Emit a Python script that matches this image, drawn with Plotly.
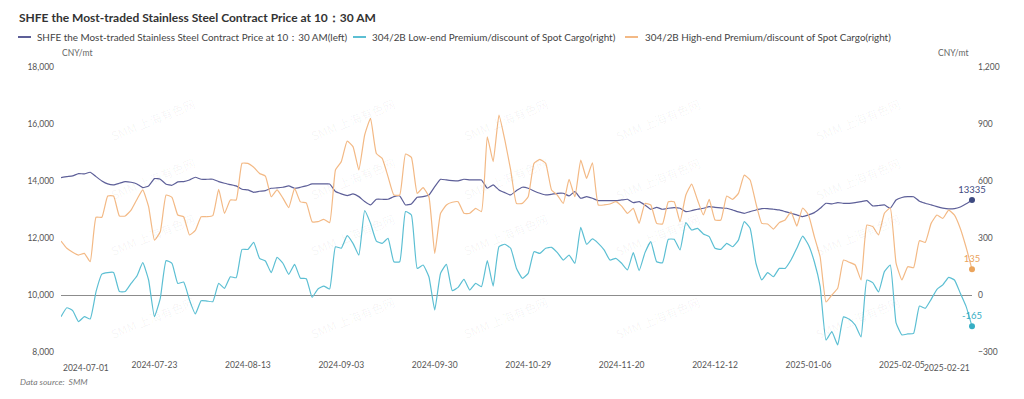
import plotly.graph_objects as go

# ---------------- data ----------------
tick_labels = ["2024-07-01", "2024-07-23", "2024-08-13", "2024-09-03", "2024-09-30",
               "2024-10-29", "2024-11-20", "2024-12-12", "2025-01-06", "2025-02-05",
               "2025-02-21"]
tick_index = [0, 16, 32, 48, 64, 80, 96, 112, 128, 144, 156]

price = [14119, 14154, 14178, 14260, 14248, 14306, 14154, 14002, 13897, 13862,
         13920, 13979, 13955, 13897, 13768, 13827, 14084, 14061, 13885, 13850,
         13967, 13979, 14037, 14131, 14061, 14061, 14061, 13979, 13920, 13873,
         13827, 13710, 13686, 13604, 13640, 13663, 13745, 13757, 13780, 13827,
         13745, 13780, 13827, 13897, 13897, 13897, 13897, 13628, 13546, 13487,
         13546, 13452, 13277, 13160, 13359, 13359, 13359, 13452, 13476, 13160,
         13195, 13429, 13452, 13511, 13803, 14061, 14037, 14014, 14002, 14061,
         14037, 14037, 14037, 13745, 13862, 13686, 13593, 13511, 13663, 13780,
         13745, 13651, 13569, 13511, 13534, 13569, 13569, 13476, 13628, 13394,
         13452, 13394, 13312, 13312, 13312, 13312, 13335, 13359, 13242, 13277,
         13160, 13008, 13078, 13008, 13043, 13066, 13043, 12926, 12960, 13008,
         13043, 13101, 13078, 13055, 13043, 12984, 12914, 12867, 12926, 12984,
         13031, 13031, 13008, 12984, 12926, 12867, 12809, 12750, 12809, 12891,
         13043, 13218, 13195, 13242, 13218, 13218, 13242, 13277, 13312, 13125,
         13140, 13160, 13043, 13335, 13420, 13449, 13449, 13290, 13220, 13160,
         13101, 13050, 13020, 13030, 13090, 13200, 13335]

low_end = [-114, -67, -82, -140, -114, -126, 18, 110, 118, 119,
           18, 18, 61, 100, 170, 79, -114, -18, 181, 167,
           61, 68, -26, -100, -30, -32, -35, 61, 35, 96,
           91, 240, 240, 277, 193, 179, 117, 198, 167, 109,
           161, 88, 86, -12, 32, 47, 32, 254, 246, 312,
           272, 210, 444, 377, 284, 272, 298, 175, 175, 439,
           421, 140, 158, 96, -79, 114, 161, 23, 40, 82,
           26, 61, 44, 181, 47, 254, 267, 246, 140, 88,
           114, 228, 219, 246, 251, 223, 184, 210, 167, 356,
           267, 295, 272, 237, 184, 193, 167, 132, 223, 128,
           223, 281, 175, 170, 293, 293, 237, 381, 342, 351,
           321, 307, 246, 240, 272, 254, 289, 386, 351, 167,
           79, 118, 96, 140, 140, 184, 246, 310, 263, 175,
           44, -237, -193, -263, -115, -128, -158, -221, 79, 65,
           16, 123, 158, -147, -210, -205, -202, -58, -70, -23,
           30, 53, 93, 79, 9, -61, -165]

high_end = [284, 246, 225, 210, 219, 175, 409, 409, 521, 521,
            416, 416, 447, 503, 553, 465, 289, 333, 526, 514,
            421, 412, 316, 340, 412, 412, 418, 556, 430, 500,
            500, 693, 693, 672, 640, 626, 517, 553, 510, 460,
            561, 490, 485, 386, 386, 398, 381, 658, 702, 810,
            781, 658, 842, 930, 745, 719, 623, 526, 526, 742,
            724, 535, 565, 517, 219, 430, 474, 488, 491, 430,
            430, 456, 439, 833, 702, 947, 816, 658, 482, 482,
            517, 693, 714, 693, 553, 526, 482, 609, 517, 710,
            614, 696, 474, 474, 479, 491, 468, 430, 456, 377,
            482, 474, 377, 374, 491, 491, 386, 526, 584, 500,
            421, 503, 395, 395, 521, 503, 535, 631, 605, 482,
            377, 374, 347, 381, 395, 438, 363, 458, 421, 307,
            200, -37, 0, 35, 184, 172, 158, 79, 368, 360,
            316, 430, 458, 168, 79, 149, 144, 286, 277, 377,
            421, 403, 447, 420, 350, 250, 135]

series_names = [
    "SHFE the Most-traded Stainless Steel Contract Price at 10：30 AM(left)",
    "304/2B Low-end Premium/discount of Spot Cargo(right)",
    "304/2B High-end Premium/discount of Spot Cargo(right)",
]
title_text = "SHFE the Most-traded Stainless Steel Contract Price at 10：30 AM"

# ---------------- style ----------------
C_PRICE = "#5d5f98"
C_LOW = "#5cbfd3"
C_HIGH = "#f3b985"
LBL_PRICE = "#3e4a80"
LBL_LOW = "#36aec4"
LBL_HIGH = "#eba45c"
FONT = "Lato"

# page has an 8px body margin: the figure is drawn offset by it
OFF = 8
W, H = 1024 - OFF, 399 - OFF
# plot area in page pixels
PL, PR, PT, PB = 61, 972, 67, 352


def px(x):
    return (x - PL) / (PR - PL)


def py(y):
    return (PB - y) / (PB - PT)


xs = list(range(len(price)))

fig = go.Figure()
fig.add_trace(go.Scatter(x=xs, y=price, mode="lines", name=series_names[0],
                         line=dict(color=C_PRICE, width=1.2, shape="spline", smoothing=0.4),
                         yaxis="y", showlegend=False))
fig.add_trace(go.Scatter(x=xs, y=low_end, mode="lines", name=series_names[1],
                         line=dict(color=C_LOW, width=1.2, shape="spline", smoothing=0.4),
                         yaxis="y2", showlegend=False))
fig.add_trace(go.Scatter(x=xs, y=high_end, mode="lines", name=series_names[2],
                         line=dict(color=C_HIGH, width=1.2, shape="spline", smoothing=0.4),
                         yaxis="y2", showlegend=False))

# end-point markers with value labels
for ys, ax, lc in [(price, "y", LBL_PRICE), (low_end, "y2", LBL_LOW), (high_end, "y2", LBL_HIGH)]:
    fig.add_trace(go.Scatter(x=[xs[-1]], y=[ys[-1]], mode="markers+text",
                             text=[str(ys[-1])], textposition="top center",
                             textfont=dict(family=FONT, size=9.5, color=lc),
                             marker=dict(color=lc, size=6, symbol="circle"),
                             cliponaxis=False,
                             yaxis=ax, showlegend=False, hoverinfo="skip"))

annotations = []
shapes = []

# title
annotations.append(dict(text="<b>" + title_text + "</b>", x=px(17), y=py(18), xref="paper", yref="paper",
                        xanchor="left", yanchor="middle", showarrow=False,
                        font=dict(family=FONT, size=12, color="#333333")))

# manual legend
legend_pos = [(18, 35), (353, 370), (625, 643)]
for (lx, tx), name, col in zip(legend_pos, series_names, [C_PRICE, C_LOW, C_HIGH]):
    shapes.append(dict(type="line", xref="paper", yref="paper", x0=px(lx), x1=px(lx + 13),
                       y0=py(37), y1=py(37), line=dict(color=col, width=2)))
    annotations.append(dict(text=name, x=px(tx), y=py(37), xref="paper", yref="paper",
                            xanchor="left", yanchor="middle", showarrow=False,
                            font=dict(family=FONT, size=9.9, color="#444444")))

# axis unit titles
annotations.append(dict(text="CNY/mt", x=px(60), y=py(53), xref="paper", yref="paper",
                        xanchor="left", yanchor="middle", showarrow=False,
                        font=dict(family=FONT, size=8.5, color="#666666")))
annotations.append(dict(text="CNY/mt", x=px(970), y=py(53), xref="paper", yref="paper",
                        xanchor="right", yanchor="middle", showarrow=False,
                        font=dict(family=FONT, size=8.5, color="#666666")))

# data source
annotations.append(dict(text="<i>Data source:  SMM</i>", x=px(18), y=py(382), xref="paper", yref="paper",
                        xanchor="left", yanchor="middle", showarrow=False,
                        font=dict(family=FONT, size=8.5, color="#777777")))

# first / last x labels aligned to plot edges
annotations.append(dict(text=tick_labels[0], x=tick_index[0], y=0, xref="x", yref="paper",
                        xanchor="left", yanchor="top", yshift=-9, showarrow=False,
                        font=dict(family=FONT, size=8.5, color="#555555")))
annotations.append(dict(text=tick_labels[-1], x=tick_index[-1], y=0, xref="x", yref="paper",
                        xanchor="right", yanchor="top", yshift=-9, showarrow=False,
                        font=dict(family=FONT, size=8.5, color="#555555")))

# watermarks
for wy in [92, 178, 262, 345]:
    for wx in [105, 305, 505, 705, 905]:
        annotations.append(dict(text="SMM 上海有色网", x=px(wx), y=py(wy), xref="paper", yref="paper",
                                showarrow=False, textangle=-22,
                                font=dict(family="Noto Sans CJK SC", size=12, color="rgba(0,0,0,0.045)")))

fig.update_layout(
    width=W, height=H,
    margin=dict(l=PL - OFF, r=W - (PR - OFF), t=PT - OFF, b=H - (PB - OFF)),
    paper_bgcolor="white", plot_bgcolor="white",
    font=dict(family=FONT, size=8.5, color="#666666"),
    xaxis=dict(range=[0, len(price) - 1], showgrid=False, zeroline=False, showline=False,
               tickmode="array", tickvals=tick_index[1:-1], ticktext=tick_labels[1:-1],
               ticks="", ticklabelstandoff=6,
               tickfont=dict(family=FONT, size=8.5, color="#555555")),
    yaxis=dict(range=[8000, 18000], dtick=2000, tickformat=",", showgrid=False, zeroline=False,
               showline=False, ticks="", ticklabelstandoff=6,
               tickfont=dict(family=FONT, size=8.5, color="#555555")),
    yaxis2=dict(range=[-300, 1200], dtick=300, tickformat=",", overlaying="y", side="right",
                showgrid=False, zeroline=True, zerolinecolor="#8c8c8c", zerolinewidth=1,
                showline=False, ticks="", ticklabelstandoff=5,
                tickfont=dict(family=FONT, size=8.5, color="#555555")),
    annotations=annotations,
    shapes=shapes,
    showlegend=False,
)

fig.write_html("out.html")
